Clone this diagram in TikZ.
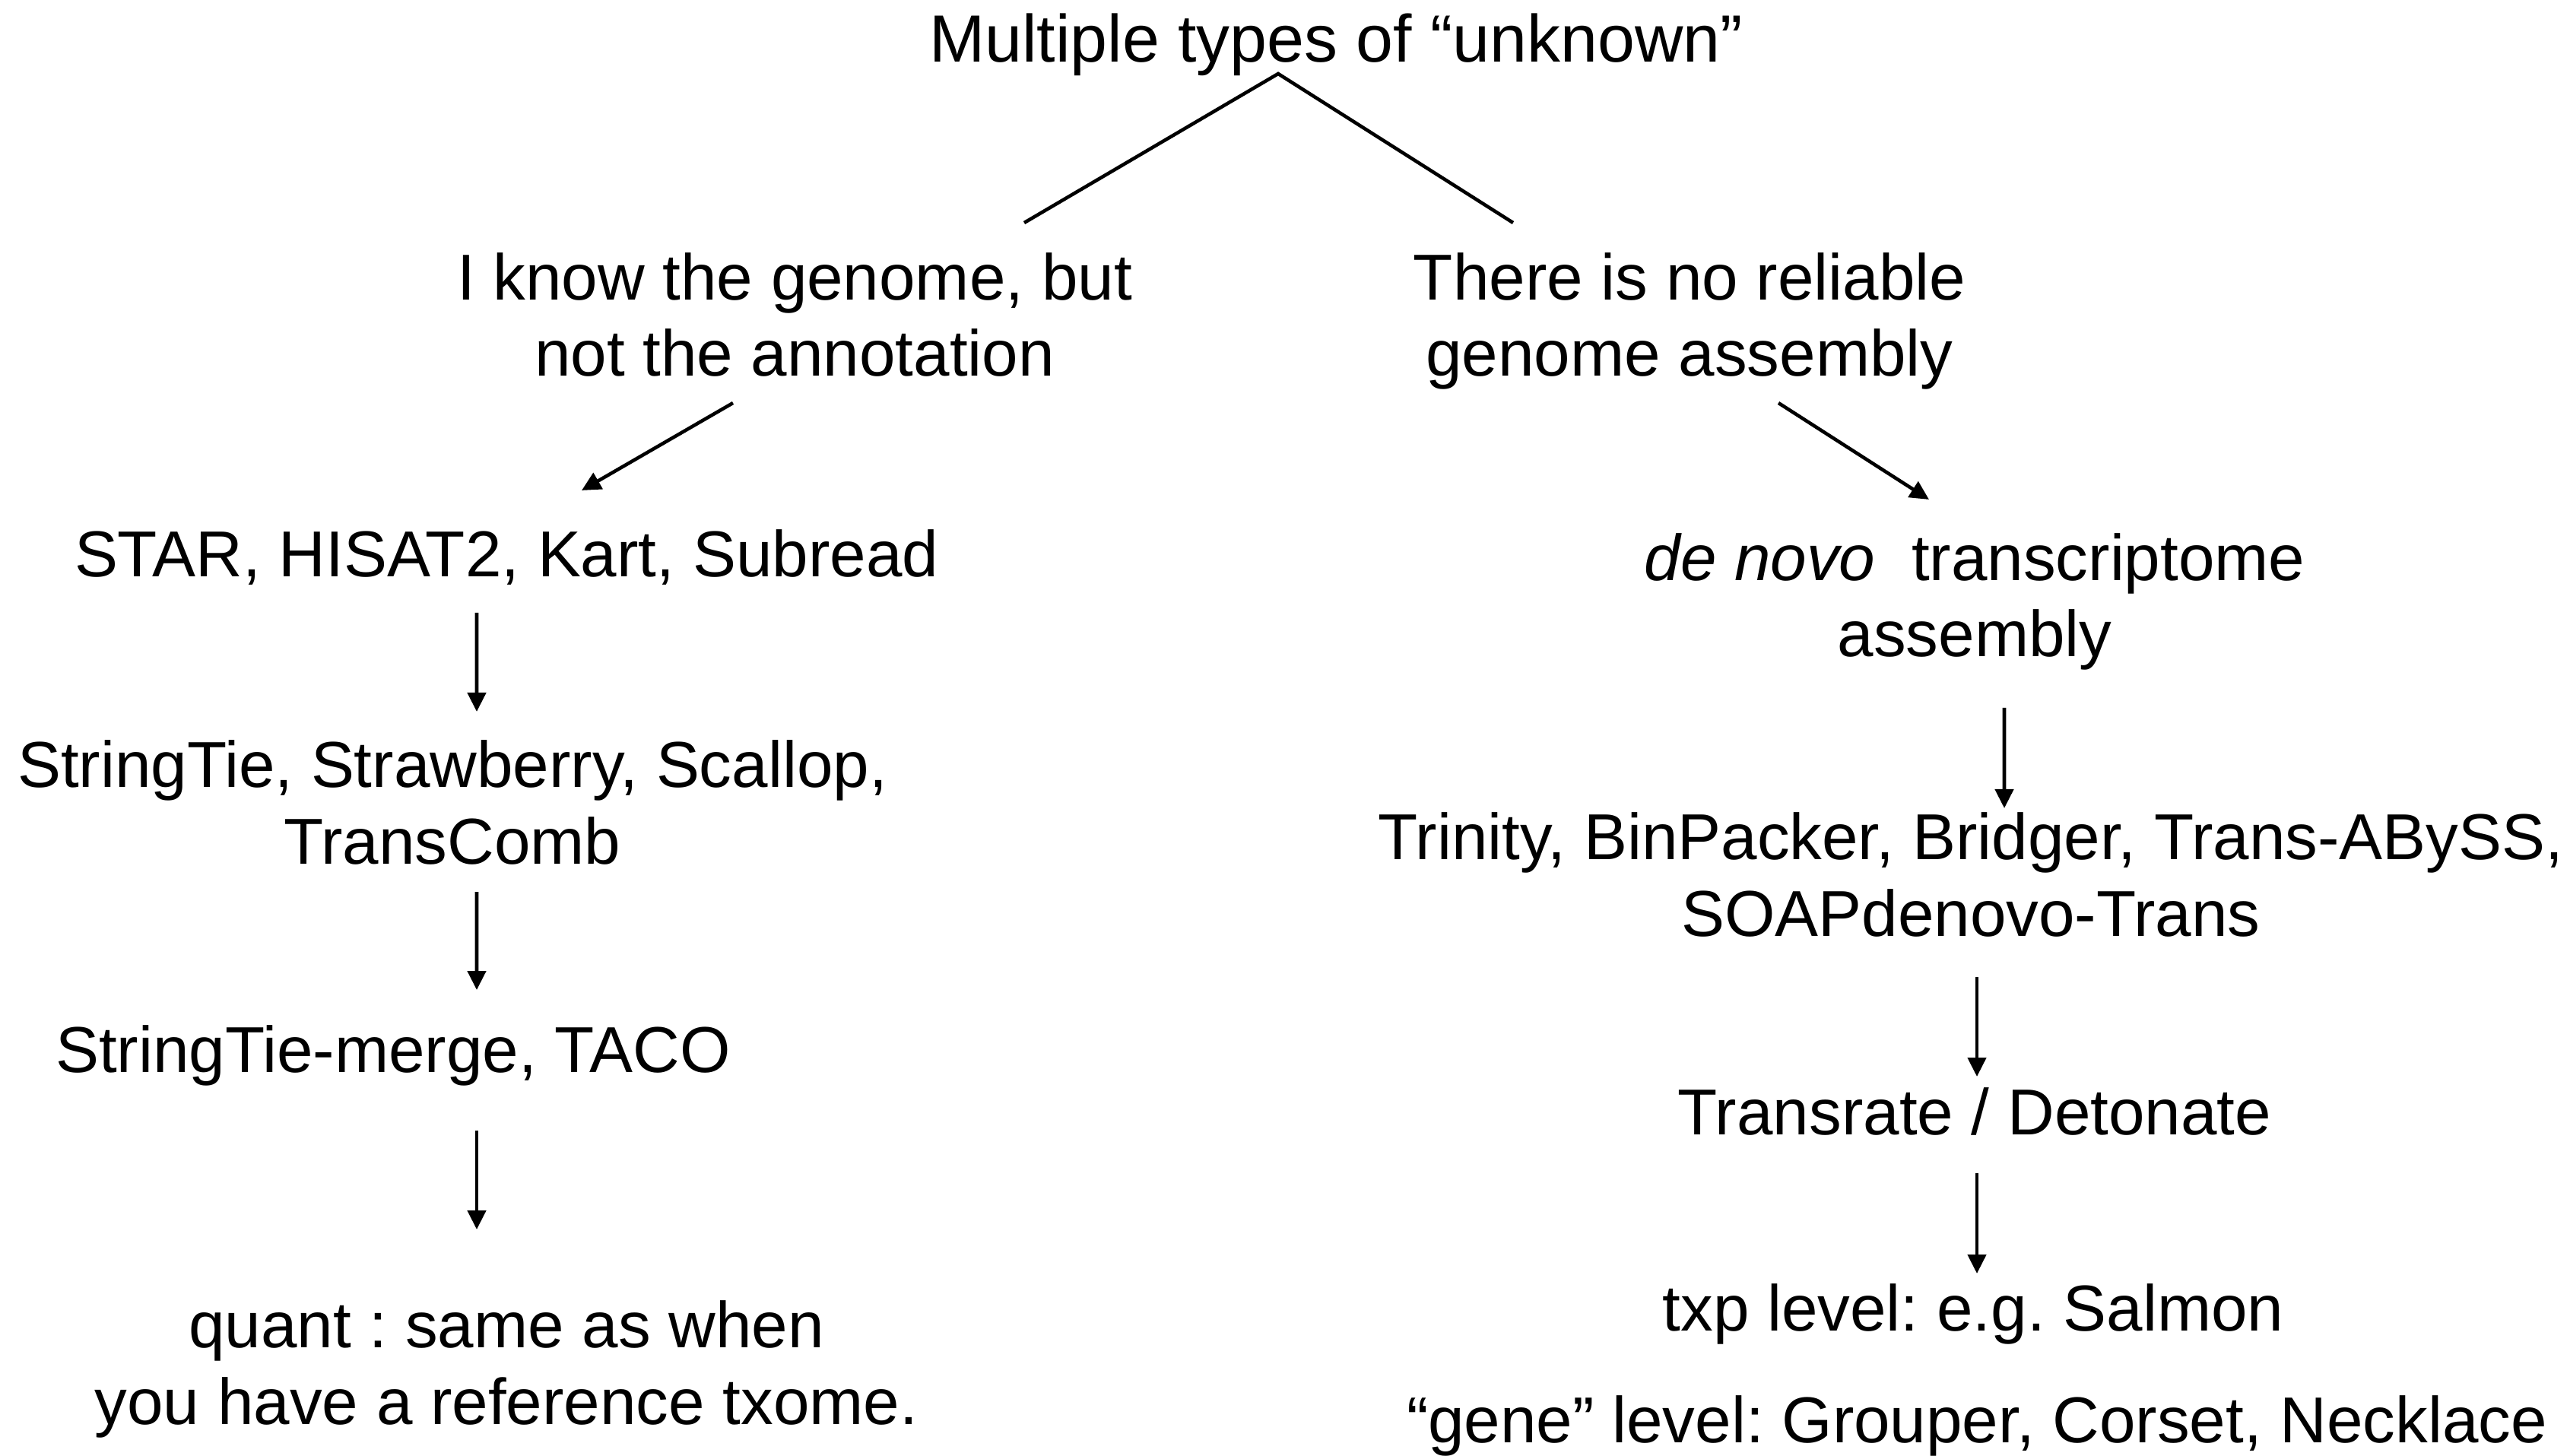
\documentclass[tikz,border=0pt]{standalone}
\usepackage{fontspec}
\setmainfont{Liberation Sans}
\usetikzlibrary{arrows.meta}
\frenchspacing

\begin{document}
\begin{tikzpicture}[>={Triangle[length=2.5mm,width=2.4mm]},line width=1.3pt,
  txt/.style={font=\fontsize{24.3}{28.7}\selectfont,align=center,inner sep=0pt,anchor=base}]
  \useasboundingbox (0,0) rectangle (33.80,-19.15);

  \node[txt,font=\fontsize{25}{28.7}\selectfont] (top) at (17.57,-0.82) {Multiple types of “unknown”};
  \node[txt] (known) at (10.45,-4.95) {I know the genome, but\\not the annotation};
  \node[txt] (nogenome) at (22.22,-4.95) {There is no reliable\\genome assembly};

  % left branch
  \node[txt] (star) at (6.66,-7.59) {STAR, HISAT2, Kart, Subread};
  \node[txt] (stringtie) at (5.95,-11.36) {StringTie, Strawberry, Scallop,\\TransComb};
  \node[txt] (merge) at (5.17,-14.10) {StringTie-merge, TACO};
  \node[txt] (quant) at (6.66,-18.73) {quant : same as when\\you have a reference txome.};

  % right branch
  \node[txt] (denovo) at (25.97,-8.64) {\textit{de novo}\ \ transcriptome\\assembly};
  \node[txt] (trinity) at (25.92,-12.31) {Trinity, BinPacker, Bridger, Trans-ABySS,\\SOAPdenovo-Trans};
  \node[txt] (transrate) at (25.97,-14.92) {Transrate / Detonate};
  \node[txt] (txp) at (25.95,-17.50) {txp level: e.g. Salmon};
  \node[txt] (gene) at (26.00,-18.97) {“gene” level: Grouper, Corset, Necklace};

  \draw ([shift={(3.02,2.02)}]known.base) -- ([shift={(-0.76,-0.15)}]top.base)
    -- ([shift={(-2.32,2.02)}]nogenome.base);

  \path[->]
    ([shift={(-0.81,-0.35)}]known.base) edge ([shift={(0.99,1.14)}]star.base)
    ([shift={(1.17,-0.35)}]nogenome.base) edge ([shift={(-0.60,2.07)}]denovo.base)
    ([shift={(-0.39,-0.47)}]star.base) edge ([shift={(0.32,2.00)}]stringtie.base)
    ([shift={(0.32,-0.37)}]stringtie.base) edge ([shift={(1.10,1.08)}]merge.base)
    ([shift={(1.10,-0.77)}]merge.base) edge ([shift={(-0.39,2.56)}]quant.base)
    ([shift={(0.39,-0.67)}]denovo.base) edge ([shift={(0.44,1.68)}]trinity.base)
    ([shift={(0.08,-0.54)}]trinity.base) edge ([shift={(0.03,0.76)}]transrate.base)
    ([shift={(0.03,-0.51)}]transrate.base) edge ([shift={(0.05,0.75)}]txp.base)
    ;
\end{tikzpicture}
\end{document}
